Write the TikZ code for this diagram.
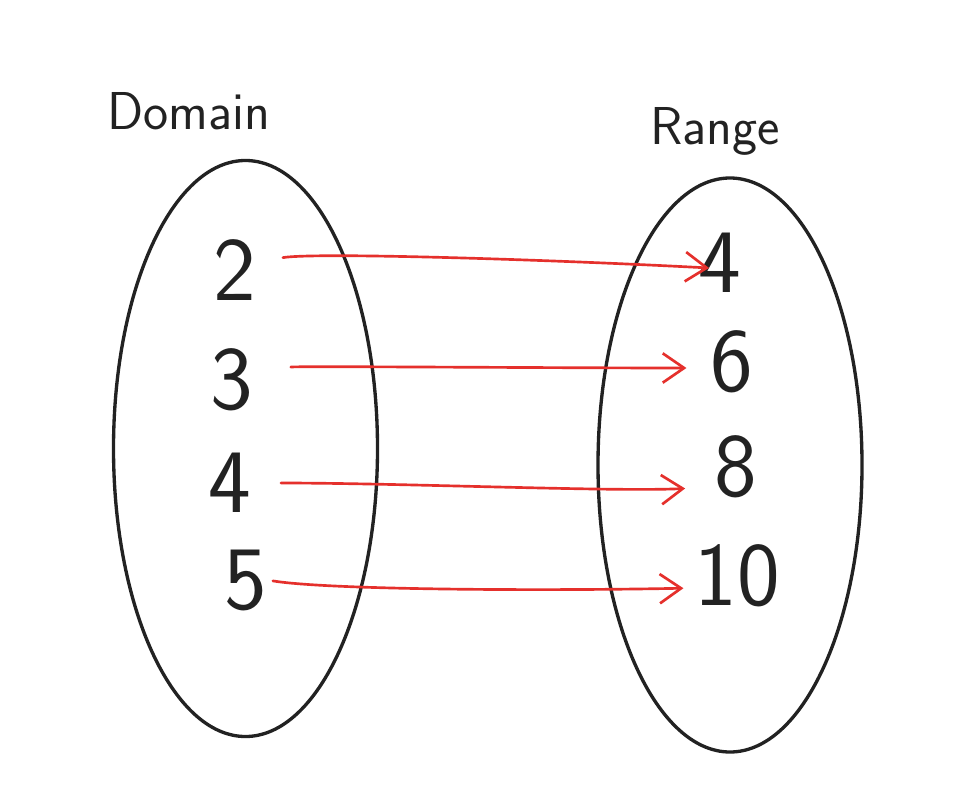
\documentclass[tikz,border=0pt]{standalone}
\usetikzlibrary{arrows.meta}
\definecolor{pen}{HTML}{222222}
\definecolor{redpen}{HTML}{E5302C}
\begin{document}
\begin{tikzpicture}[x=0.75pt,y=-0.75pt,
  setline/.style={draw=pen,line width=2.5pt},
  num/.style={inner sep=0pt,anchor=center,text=pen,font=\sffamily\fontsize{68}{68}\selectfont},
  title/.style={inner sep=0pt,anchor=base,text=pen,font=\sffamily\fontsize{40}{40}\selectfont},
  maparrow/.style={draw=redpen,line width=2pt,line cap=round,
    -{Straight Barb[length=16pt,width=22pt,line width=2pt]}}]
\fill[white] (0,0) rectangle (955,802);
\useasboundingbox (0,0) rectangle (955,802);
% sets
\draw[setline] (245.5,448.5) ellipse [x radius=132, y radius=288];
\draw[setline] (730,465) ellipse [x radius=132, y radius=287];
% titles
\node[title] (domain) at (189,130) {Domain};
\node[title] (range) at (715,145) {Range};
% domain numbers
\node[num] (d2) at (235,270) {2};
\node[num] (d3) at (232,380) {3};
\node[num] (d4) at (230,483) {4};
\node[num] (d5) at (246,580) {5};
% range numbers
\node[num] (r4) at (720,263) {4};
\node[num] (r6) at (732,362) {6};
\node[num] (r8) at (736,467) {8};
\node[num] (r10) at (737,576) {10};
% mapping arrows
\draw[maparrow,shorten <=20pt] ([yshift=6pt]d2.east) .. controls +(60,-10) and +(-150,-8) .. ([xshift=8pt,yshift=-3.75pt]r4.west);
\draw[maparrow,shorten <=28pt,shorten >=18pt] ([yshift=7.5pt]d3.east) .. controls +(50,-4) and +(-150,0) .. ([yshift=-4.5pt]r6.west);
\draw[maparrow,shorten <=22pt,shorten >=22pt] (d4.east) .. controls +(150,0) and +(-100,5) .. ([yshift=-15pt]r8.west);
\draw[maparrow,shorten <=4pt,shorten >=8pt] (d5.east) .. controls +(60,10) and +(-150,3) .. ([yshift=-9pt]r10.west);
\end{tikzpicture}
\end{document}
